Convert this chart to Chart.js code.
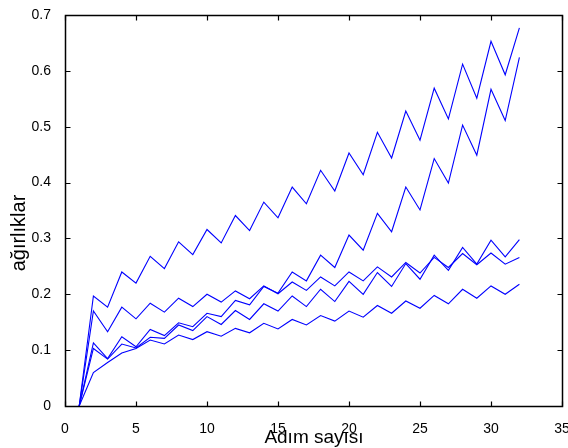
<!DOCTYPE html>
<html>
<head>
<meta charset="utf-8">
<title>Ağırlıklar</title>
<script src="https://cdn.jsdelivr.net/npm/chart.js@4.4.1/dist/chart.umd.min.js"></script>
<style>
    html, body { margin: 0; padding: 0; background: #fff; }
    #wrap { width: 568px; height: 448px; }
</style>
</head>
<body>
<div id="wrap"><canvas id="myChart" width="568" height="448"></canvas></div>
<script>
// step numbers on the x axis
const steps = [1, 2, 3, 4, 5, 6, 7, 8, 9, 10, 11, 12, 13, 14, 15, 16,
               17, 18, 19, 20, 21, 22, 23, 24, 25, 26, 27, 28, 29, 30, 31, 32];

// weight values per step, one array per weight
const weight1 = [0, 0.197, 0.177, 0.240, 0.220, 0.268, 0.246, 0.294, 0.271, 0.316, 0.292, 0.341, 0.314, 0.365, 0.337, 0.392,
                 0.362, 0.422, 0.385, 0.453, 0.414, 0.490, 0.444, 0.528, 0.476, 0.569, 0.514, 0.612, 0.551, 0.653, 0.593, 0.677];
const weight2 = [0, 0.113, 0.085, 0.124, 0.106, 0.137, 0.126, 0.149, 0.142, 0.166, 0.160, 0.189, 0.181, 0.214, 0.202, 0.240,
                 0.224, 0.270, 0.248, 0.306, 0.279, 0.345, 0.312, 0.392, 0.351, 0.443, 0.399, 0.503, 0.449, 0.567, 0.511, 0.624];
const weight3 = [0, 0.103, 0.084, 0.111, 0.104, 0.123, 0.121, 0.145, 0.135, 0.160, 0.146, 0.171, 0.155, 0.183, 0.170, 0.197,
                 0.178, 0.209, 0.187, 0.223, 0.200, 0.239, 0.214, 0.255, 0.227, 0.270, 0.243, 0.284, 0.254, 0.297, 0.267, 0.298];
const weight4 = [0, 0.170, 0.133, 0.177, 0.156, 0.184, 0.168, 0.193, 0.178, 0.200, 0.186, 0.206, 0.192, 0.215, 0.201, 0.222,
                 0.207, 0.231, 0.215, 0.240, 0.224, 0.249, 0.231, 0.257, 0.238, 0.266, 0.248, 0.273, 0.253, 0.274, 0.254, 0.266];
const weight5 = [0, 0.060, 0.078, 0.095, 0.103, 0.118, 0.111, 0.127, 0.119, 0.133, 0.125, 0.139, 0.131, 0.148, 0.138, 0.155,
                 0.145, 0.162, 0.152, 0.170, 0.159, 0.180, 0.166, 0.188, 0.175, 0.198, 0.183, 0.209, 0.193, 0.215, 0.200, 0.218];

const xTitle = 'Adım sayısı';
const yTitle = 'ağırlıklar';
const fontFamily = '"Liberation Sans", Arial, Helvetica, sans-serif';

const allWeights = [weight1, weight2, weight3, weight4, weight5];

const datasets = allWeights.map(function (w) {
    return {
        data: steps.map(function (s, i) { return { x: s, y: w[i] }; }),
        borderColor: '#0000ff',
        borderWidth: 1.1,
        pointRadius: 0,
        fill: false,
        tension: 0
    };
});

// box around the plot, inward ticks on all four sides, and the axis titles
const boxPlugin = {
    id: 'boxPlugin',
    afterDraw(chart) {
        const c = chart.ctx;
        const area = chart.chartArea;
        const xs = chart.scales.x;
        const ys = chart.scales.y;
        const tick = 5;
        const l = Math.round(area.left) + 0.5, r = Math.round(area.right) + 0.5;
        const t = Math.round(area.top) + 0.5, b = Math.round(area.bottom) + 0.5;

        c.save();
        c.strokeStyle = '#000';
        c.lineWidth = 1.5;
        c.setLineDash([]);
        c.strokeRect(l, t, r - l, b - t);

        c.lineWidth = 1.2;
        c.beginPath();
        xs.ticks.forEach(function (tk) {
            const px = Math.round(xs.getPixelForValue(tk.value)) + 0.5;
            c.moveTo(px, b);
            c.lineTo(px, b - tick);
            c.moveTo(px, t);
            c.lineTo(px, t + tick);
        });
        ys.ticks.forEach(function (tk) {
            const py = Math.round(ys.getPixelForValue(tk.value)) + 0.5;
            c.moveTo(l, py);
            c.lineTo(l + tick, py);
            c.moveTo(r, py);
            c.lineTo(r - tick, py);
        });
        c.stroke();

        c.fillStyle = '#000';
        c.textAlign = 'center';
        c.textBaseline = 'alphabetic';
        c.font = '19px ' + fontFamily;
        c.fillText(xTitle, (l + r) / 2, 443);

        c.translate(25, 233);
        c.rotate(-Math.PI / 2);
        c.font = '20px ' + fontFamily;
        c.fillText(yTitle, 0, 0);
        c.restore();
    }
};

new Chart(document.getElementById('myChart').getContext('2d'), {
    type: 'line',
    data: { datasets: datasets },
    options: {
        responsive: false,
        animation: false,
        events: [],
        layout: {
            autoPadding: false,
            padding: { top: 15, right: 6, left: 0, bottom: 0 }
        },
        plugins: {
            legend: { display: false },
            tooltip: { enabled: false }
        },
        scales: {
            x: {
                type: 'linear',
                min: 0,
                max: 35,
                grid: { display: false },
                border: { display: false },
                ticks: {
                    stepSize: 5,
                    color: '#000',
                    padding: 7,
                    maxRotation: 0,
                    font: { family: fontFamily, size: 14 }
                },
                afterFit(scale) {
                    scale.height = 42;
                    scale.paddingLeft = 0;
                    scale.paddingRight = 0;
                }
            },
            y: {
                min: 0,
                max: 0.7,
                grid: { display: false },
                border: { display: false },
                ticks: {
                    stepSize: 0.1,
                    color: '#000',
                    padding: 6,
                    font: { family: fontFamily, size: 14 },
                    callback: function (v) { return Number(v.toFixed(1)).toString(); }
                },
                afterFit(scale) {
                    scale.width = 65;
                    scale.paddingTop = 0;
                    scale.paddingBottom = 0;
                }
            }
        }
    },
    plugins: [boxPlugin]
});
</script>
</body>
</html>
